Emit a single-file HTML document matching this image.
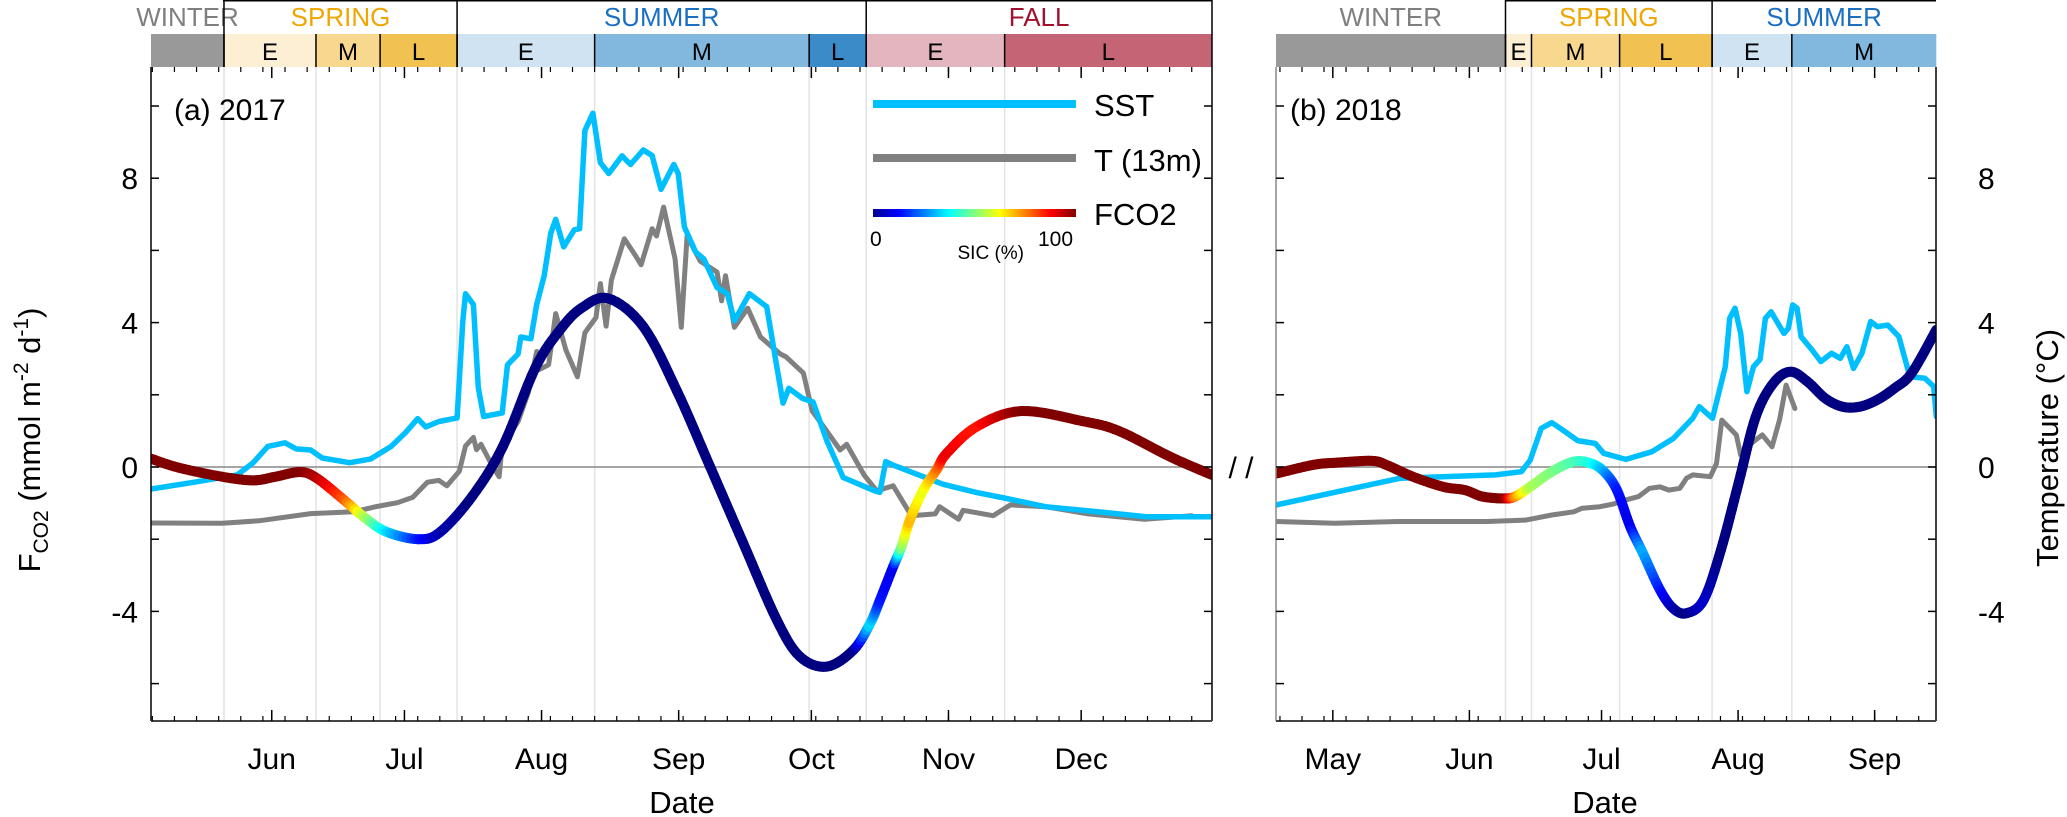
<!DOCTYPE html>
<html><head><meta charset="utf-8"><style>
html,body{margin:0;padding:0;background:#fff;}
svg{display:block;font-family:"Liberation Sans",sans-serif;}
</style></head><body>
<svg id="chart" width="2067" height="817" viewBox="0 0 2067 817" xmlns="http://www.w3.org/2000/svg">
<defs>
<clipPath id="clipA"><rect x="151" y="67" width="1061" height="654"/></clipPath>
<clipPath id="clipB"><rect x="1276" y="67" width="660" height="654"/></clipPath>
<linearGradient id="jetGrad" x1="0" x2="1" y1="0" y2="0">
<stop offset="0" stop-color="#00008f"/><stop offset="0.125" stop-color="#0000ff"/><stop offset="0.375" stop-color="#00ffff"/><stop offset="0.625" stop-color="#ffff00"/><stop offset="0.875" stop-color="#ff0000"/><stop offset="1" stop-color="#800000"/>
</linearGradient>
</defs>
<g id="header"></g>
<g id="grid"></g>
<g id="series"></g>
<g id="axes"></g>

<text x="174" y="120" font-size="30">(a) 2017</text>
<text x="1290" y="120" font-size="30">(b) 2018</text>
<text x="1241" y="478" font-size="30" text-anchor="middle">/ /</text>

<g>
<line x1="873" y1="104" x2="1076" y2="104" stroke="#00bfff" stroke-width="8"/>
<text x="1094" y="116" font-size="31">SST</text>
<line x1="873" y1="158" x2="1076" y2="158" stroke="#808080" stroke-width="8"/>
<text x="1094" y="171" font-size="31">T (13m)</text>
<rect x="873" y="209" width="203" height="8" fill="url(#jetGrad)"/>
<text x="1094" y="225" font-size="31">FCO2</text>
<text x="870" y="246" font-size="21">0</text>
<text x="1038" y="246" font-size="21">100</text>
<text x="1024" y="259" font-size="19" text-anchor="end">SIC (%)</text>
</g>

<text transform="translate(40,440) rotate(-90)" font-size="31" text-anchor="middle">F<tspan font-size="21" dy="8">CO2</tspan><tspan dy="-8"> (mmol m</tspan><tspan font-size="21" dy="-12">-2</tspan><tspan dy="12"> d</tspan><tspan font-size="21" dy="-12">-1</tspan><tspan dy="12">)</tspan></text>
<text transform="translate(2058,448) rotate(-90)" font-size="31" text-anchor="middle">Temperature (°C)</text>
<text x="682" y="813" font-size="31" text-anchor="middle">Date</text>
<text x="1605" y="813" font-size="31" text-anchor="middle">Date</text>
</svg>
<script>
// ---------- data ----------
const monthNamesA = ["Jun","Jul","Aug","Sep","Oct","Nov","Dec"];
const monthDaysA = [152,182,213,244,274,305,335];
const monthNamesB = ["May","Jun","Jul","Aug","Sep"];
const monthDaysB = [121,152,182,213,244];
const yTickValues = [-4,0,4,8];
const yMinorValues = [-6,-2,2,6,10];

const seasonNamesA = ["WINTER","SPRING","SUMMER","FALL"];
const seasonStartA = [124.7,141.2,193.9,286.4];
const seasonEndA = [141.2,193.9,286.4,364.6];
const subLabelsA = ["","E","M","L","E","M","L","E","L"];
const subStartA = [124.7,141.2,162,176.5,193.9,225,273.5,286.4,317.7];
const subEndA = [141.2,162,176.5,193.9,225,273.5,286.4,317.7,364.6];
const subSeasonA = [0,1,1,1,2,2,2,3,3];
const subStageA = [0,0,1,2,0,1,2,0,2];

const seasonNamesB = ["WINTER","SPRING","SUMMER"];
const seasonStartB = [108.1,160.2,207.1];
const seasonEndB = [160.2,207.1,258];
const subLabelsB = ["","E","M","L","E","M"];
const subStartB = [108.1,160.2,166.1,186.1,207.1,225.2];
const subEndB = [160.2,166.1,186.1,207.1,225.2,258];
const subSeasonB = [0,1,1,1,2,2];
const subStageB = [0,0,1,2,0,1];

const sstDayA = [124.7,134.5,144.2,147.8,151.1,155,157.5,160.8,163.4,169.6,174.3,179,182.3,185,186.8,189.8,193.9,195.2,195.8,197.6,198.7,199.9,204.1,205.3,207.7,208.3,210.6,211.9,213.6,215.1,216.2,218,220.4,221.6,222.8,224.6,226.3,228.2,231.2,233.1,236,238,240,242.9,243.9,245.3,247.8,249.7,252.7,255,256.6,260,263.9,267.6,268.9,272,274.4,277.5,281.2,288.3,289.5,290.8,292.5,294,303.8,311.4,317.6,326.9,339.6,349.9,364.6];
const sstValA = [-0.61,-0.42,-0.22,0.12,0.57,0.67,0.5,0.47,0.25,0.12,0.22,0.57,0.96,1.34,1.11,1.26,1.36,4.04,4.8,4.5,2.2,1.4,1.5,2.83,3.13,3.6,3.55,4.5,5.3,6.48,6.86,6.1,6.57,6.6,9.32,9.8,8.43,8.13,8.62,8.38,8.78,8.63,7.69,8.38,8.13,6.65,5.96,5.76,4.97,4.8,4.05,4.8,4.44,1.77,2.18,1.9,1.8,0.73,-0.29,-0.66,-0.7,0.15,0.05,-0.02,-0.48,-0.71,-0.86,-1.1,-1.25,-1.38,-1.38];

const tDayA = [124.7,140.8,149.1,160.8,170.6,175.5,180.4,183.9,187.2,189.8,191.6,194.4,195.8,197.6,198.3,199.3,201.7,203.4,204.1,207.7,210,211.9,212.5,214.6,216.2,218.5,221.1,222.8,225.3,226.3,227.6,228.8,231.7,234.1,235.5,238,239,240.6,243.2,244.6,245.9,248.9,252.7,253.7,254.6,256.6,259.6,262.5,267,268.3,272.2,274.2,277.1,280.5,282,285.9,288.8,292.5,296.6,302,303,307.3,308.3,315.1,319,326.9,336.6,349.3,360];
const tValA = [-1.55,-1.56,-1.49,-1.29,-1.24,-1.1,-0.99,-0.84,-0.42,-0.37,-0.52,-0.12,0.58,0.82,0.48,0.63,0.07,-0.27,0.58,1.26,2.06,3.2,2.7,2.83,4.25,3.24,2.5,3.72,4.14,5.08,3.9,5.18,6.32,5.88,5.6,6.6,6.4,7.2,5.76,3.87,6.4,5.7,5.4,4.6,5.3,3.87,4.4,3.6,3.13,3.05,2.6,1.55,1.06,0.47,0.63,-0.22,-0.66,-0.52,-1.35,-1.3,-1.1,-1.45,-1.2,-1.35,-1.05,-1.1,-1.3,-1.45,-1.35];

const fDayA = [124.7,131,140.8,147.8,152.8,158.5,162.3,168.3,173.1,178,185.2,190.1,197.4,204.3,211.6,217.2,222,228.1,236,243.6,251.1,258.6,266.2,271.4,277.5,283.5,287.3,289.5,292.5,294.4,296.3,299.3,302.3,304.6,311.4,321.5,335.3,343.5,355.2,364.6];
const fValA = [0.23,-0.02,-0.27,-0.37,-0.27,-0.14,-0.32,-0.91,-1.41,-1.8,-2.0,-1.8,-0.8,0.58,2.75,3.8,4.4,4.67,3.89,2.11,0.01,-2.11,-4.24,-5.25,-5.53,-5.07,-4.33,-3.69,-2.76,-2.2,-1.46,-0.64,-0.08,0.38,1.12,1.55,1.27,1.0,0.28,-0.22];
const sicA = [100,100,100,100,100,100,95,80,55,35,15,5,0,0,0,0,0,0,0,0,0,0,0,0,0,0,35,15,10,50,70,60,75,90,85,100,100,100,100,100];

const sstDayB = [108.2,136.3,157.9,163.8,165.8,168.3,170.7,173.7,176.6,180.6,182.5,187.5,193.4,198.3,202.7,204.2,207.2,210.1,211.1,212.3,213.6,215,216.5,218,219.2,220.5,223.4,224.4,225.4,226.4,227.3,229.8,231.8,234.2,236.2,237.7,239.2,241.1,243.1,244.6,247,249.5,252,255.4,257.4,258];
const sstValB = [-1.05,-0.31,-0.22,-0.13,0.19,1.07,1.23,0.98,0.73,0.65,0.38,0.21,0.42,0.79,1.35,1.67,1.35,2.78,4.12,4.4,3.7,2.09,2.78,2.98,4.12,4.3,3.7,3.84,4.49,4.4,3.61,3.24,2.92,3.15,3.01,3.33,2.73,3.15,4.03,3.89,3.93,3.61,2.5,2.46,2.23,1.4];

const tDayB = [108.2,121.5,136.3,156,164.8,170.7,175.7,177.6,181.6,184.5,187.5,190.4,192.9,195.3,197.3,199.8,201.3,202.7,206.7,208.1,209.3,212.6,213.6,215.5,218.5,220.7,222.4,223.9,225.9];
const tValB = [-1.51,-1.56,-1.51,-1.51,-1.47,-1.33,-1.24,-1.14,-1.1,-1.03,-0.91,-0.82,-0.59,-0.55,-0.64,-0.59,-0.31,-0.22,-0.27,0.1,1.3,0.89,0.33,0.61,0.89,0.56,1.3,2.27,1.62];

const fDayB = [108.2,116.6,122,129.9,133.3,139.2,146.1,151,155,159.9,162.4,165.8,170.7,175.7,179.6,182.6,185.5,188.5,191.4,195.3,198.3,201.3,205.2,209.1,213.1,217,221,224.9,228.8,232.8,236.7,240.6,244.6,248.5,252.4,258];
const fValB = [-0.18,0.06,0.12,0.17,0.05,-0.27,-0.55,-0.64,-0.82,-0.87,-0.82,-0.55,-0.13,0.15,0.1,-0.13,-0.64,-1.65,-2.39,-3.41,-3.92,-4.05,-3.68,-2.3,-0.45,1.39,2.32,2.64,2.36,1.9,1.67,1.67,1.86,2.18,2.6,3.8];
const sicB = [100,100,100,100,100,100,100,100,100,100,75,55,50,45,40,30,15,10,30,15,5,0,8,0,0,0,0,0,0,0,0,0,0,0,0,0];

// ---------- scales ----------
const NS = "http://www.w3.org/2000/svg";
function xA(d){ return 151 + (d-124.7)*4.423; }
function xB(d){ return 1276 + (d-108.1)*4.405; }
function yS(v){ return 467 - v*36.1; }
const PT = 67, PB = 721;

function mk(tag, attrs, parent){
  const e = document.createElementNS(NS, tag);
  for (const k in attrs) e.setAttribute(k, attrs[k]);
  parent.appendChild(e);
  return e;
}
const header = document.getElementById('header');
const grid = document.getElementById('grid');
const series = document.getElementById('series');
const axes = document.getElementById('axes');

const seasonColors = [["#999999","#999999","#999999"],["#fcefd3","#f8d88f","#f1c251"],["#cfe3f2","#83b8de","#3a8bc7"],["#e3b5be","#e3b5be","#c46474"]];
const seasonTextColors = ["#7f7f7f","#efa600","#1b6fc2","#a0122c"];

function drawHeader(sx, names, sStart, sEnd, labs, uStart, uEnd, uSeason, uStage, panel){
  for (let i=0;i<labs.length;i++){
    const x1 = sx(uStart[i]), x2 = sx(uEnd[i]);
    const r = mk('rect',{x:x1,y:34,width:x2-x1,height:33,fill:seasonColors[uSeason[i]][uStage[i]]},header);
    
    
    if (labs[i]) {
      const t = mk('text',{x:(x1+x2)/2,y:60,'font-size':24,'text-anchor':'middle',fill:'#000'},header);
      t.textContent = labs[i];
      
      
    }
    if (i>0) {
      const l = mk('line',{x1:x1,x2:x1,y1:34,y2:67,stroke:'#000','stroke-width':1.5},header);
      
      
    }
  }
  for (let i=0;i<names.length;i++){
    const x1 = sx(sStart[i]), x2 = sx(sEnd[i]);
    const t = mk('text',{x:(x1+x2)/2,y:26,'font-size':26,'text-anchor':'middle',fill:seasonTextColors[i]},header);
    t.textContent = names[i];
    
    
    if (i>0){
      const l = mk('line',{x1:x1,x2:x1,y1:0,y2:67,stroke:'#000','stroke-width':1.5},header);
      
      
    }
  }
  for (let i=1;i<uStart.length;i++){
    const gx = sx(uStart[i]);
    const g = mk('line',{x1:gx,x2:gx,y1:PT,y2:PB,stroke:'#e3e3e3','stroke-width':1.5},grid);
    
    
  }
}
drawHeader(xA, seasonNamesA, seasonStartA, seasonEndA, subLabelsA, subStartA, subEndA, subSeasonA, subStageA, 'panel-a');
drawHeader(xB, seasonNamesB, seasonStartB, seasonEndB, subLabelsB, subStartB, subEndB, subSeasonB, subStageB, 'panel-b');
const hl1 = mk('line',{x1:223,x2:1212,y1:0.75,y2:0.75,stroke:'#000','stroke-width':1.5},header);


const hl2 = mk('line',{x1:1212,x2:1212,y1:0,y2:67,stroke:'#000','stroke-width':1.5},header);


const hl3 = mk('line',{x1:xB(160.2),x2:1936,y1:0.75,y2:0.75,stroke:'#000','stroke-width':1.5},header);



[[151,1212],[1276,1936]].forEach(function(p){
  const z = mk('line',{x1:p[0],x2:p[1],y1:yS(0),y2:yS(0),stroke:'#888','stroke-width':1.5},grid);
  
  
});

function lineSeries(days, vals, sx, color, w, clip, name){
  const pts = days.map(function(d,i){ return sx(d).toFixed(1)+','+yS(vals[i]).toFixed(1); }).join(' ');
  const p = mk('polyline',{points:pts,fill:'none',stroke:color,'stroke-width':w,'stroke-linejoin':'round','stroke-linecap':'round','clip-path':'url(#'+clip+')'},series);
  
  
}
function jet(t){
  t = Math.max(0,Math.min(1,t/100));
  const r = Math.max(0,Math.min(1,1.5-Math.abs(4*t-3)));
  const g = Math.max(0,Math.min(1,1.5-Math.abs(4*t-2)));
  const b = Math.max(0,Math.min(1,1.5-Math.abs(4*t-1)));
  return 'rgb('+Math.round(r*255)+','+Math.round(g*255)+','+Math.round(b*255)+')';
}
function crSample(arr, i, t){
  const p0 = arr[Math.max(0,i-1)], p1 = arr[i], p2 = arr[i+1], p3 = arr[Math.min(arr.length-1,i+2)];
  const t2=t*t, t3=t2*t;
  return 0.5*((2*p1)+(-p0+p2)*t+(2*p0-5*p1+4*p2-p3)*t2+(-p0+3*p1-3*p2+p3)*t3);
}
function fluxSeries(days, vals, sic, sx, clip, name){
  const g = mk('g',{'clip-path':'url(#'+clip+')'},series);
  
  
  const N = 8;
  for (let i=0;i<days.length-1;i++){
    for (let k=0;k<N;k++){
      const t0=k/N, t1=(k+1)/N;
      const d0 = crSample(days,i,t0), d1 = crSample(days,i,t1);
      const v0 = crSample(vals,i,t0), v1 = crSample(vals,i,t1);
      const c = sic[i]+(sic[i+1]-sic[i])*(t0+t1)/2;
      const s = mk('line',{x1:sx(d0),y1:yS(v0),x2:sx(d1),y2:yS(v1),stroke:jet(c),'stroke-width':10,'stroke-linecap':'round'},g);
      
      
    }
  }
}
lineSeries(tDayA, tValA, xA, '#808080', 5, 'clipA', 'panel-a-t13m-line');
lineSeries(sstDayA, sstValA, xA, '#00bfff', 5.5, 'clipA', 'panel-a-sst-line');
fluxSeries(fDayA, fValA, sicA, xA, 'clipA', 'panel-a-fco2-line');
lineSeries(tDayB, tValB, xB, '#808080', 5, 'clipB', 'panel-b-t13m-line');
lineSeries(sstDayB, sstValB, xB, '#00bfff', 5.5, 'clipB', 'panel-b-sst-line');
fluxSeries(fDayB, fValB, sicB, xB, 'clipB', 'panel-b-fco2-line');

function frame(x1, x2, panel, leftColor){
  const a = mk('line',{x1:x1,x2:x1,y1:PT,y2:PB,stroke:leftColor,'stroke-width':1.5},axes);
   
  const b = mk('line',{x1:x2,x2:x2,y1:PT,y2:PB,stroke:'#000','stroke-width':1.5},axes);
   
  const c = mk('line',{x1:x1,x2:x2,y1:PB,y2:PB,stroke:'#444','stroke-width':2},axes);
   
  yTickValues.concat(yMinorValues).forEach(function(v){
    const yy = yS(v);
    if (yy<PT||yy>PB) return;
    const t1 = mk('line',{x1:x1,x2:x1+8,y1:yy,y2:yy,stroke:'#000','stroke-width':1.5},axes);
     
    const t2 = mk('line',{x1:x2-8,x2:x2,y1:yy,y2:yy,stroke:'#000','stroke-width':1.5},axes);
     
  });
}
frame(151,1212,'panel-a','#000');
frame(1276,1936,'panel-b','#888');

function xTicks(sx, d0, d1, names, days, panel){
  for (let d=Math.ceil(d0); d<=d1; d+=5){
    const xx = sx(d);
    const a = mk('line',{x1:xx,x2:xx,y1:PB,y2:PB-5,stroke:'#000','stroke-width':1.2},axes);
     
    const b = mk('line',{x1:xx,x2:xx,y1:PT,y2:PT+5,stroke:'#000','stroke-width':1.2},axes);
     
  }
  for (let i=0;i<names.length;i++){
    const xx = sx(days[i]);
    const a = mk('line',{x1:xx,x2:xx,y1:PB,y2:PB-11,stroke:'#000','stroke-width':1.5},axes);
     
    const b = mk('line',{x1:xx,x2:xx,y1:PT,y2:PT+11,stroke:'#000','stroke-width':1.5},axes);
     
    const t = mk('text',{x:xx,y:769,'font-size':30,'text-anchor':'middle'},axes);
    t.textContent = names[i];
    
    
  }
}
xTicks(xA,124.7,364.6,monthNamesA,monthDaysA,'panel-a');
xTicks(xB,108.1,258,monthNamesB,monthDaysB,'panel-b');

yTickValues.forEach(function(v){
  const t = mk('text',{x:138,y:yS(v)+11,'font-size':30,'text-anchor':'end'},axes);
  t.textContent = v;
  
  
  const r = mk('text',{x:1978,y:yS(v)+11,'font-size':30,'text-anchor':'start'},axes);
  r.textContent = v;
  
  
});
</script>
</body></html>
